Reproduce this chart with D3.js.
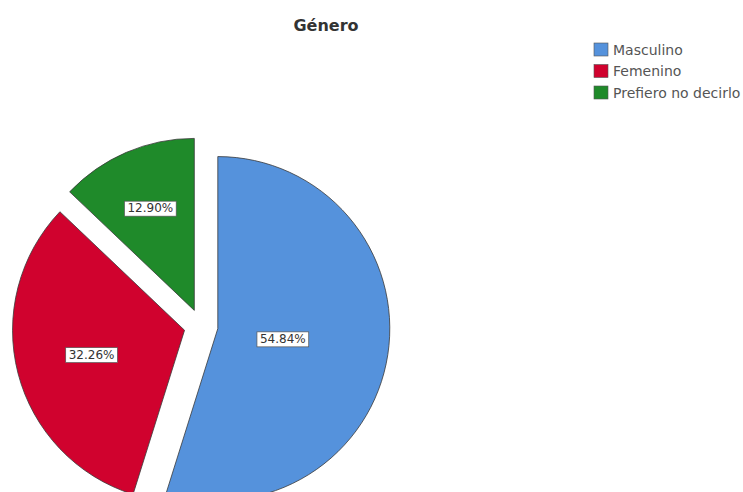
<!DOCTYPE html>
<html>
<head>
<meta charset="utf-8">
<script src="https://cdn.jsdelivr.net/npm/d3@7"></script>
<style>
  html, body { margin: 0; padding: 0; background: #fff; }
  svg { display: block; }
</style>
</head>
<body>
<svg id="chart" width="743" height="492"></svg>
<script>
// Gender distribution (percent of respondents)
const categories = ["Masculino", "Femenino", "Prefiero no decirlo"];
const values = [54.84, 32.26, 12.90];
const colors = ["#5592dc", "#d0022e", "#1f8a2a"];
const title = "Género";

const width = 743, height = 492;
const font = "'DejaVu Sans', Verdana, sans-serif";
const svg = d3.select("#chart");

const cx = 201, cy = 326, radius = 172, explode = 17;

// Title
svg.append("text")
  .attr("x", 326).attr("y", 31)
  .attr("text-anchor", "middle")
  .style("font-family", font)
  .style("font-weight", "bold")
  .style("font-size", "16px")
  .style("fill", "#333")
  .text(title);

const pie = d3.pie().sort(null).value(d => d)
  .startAngle(0).endAngle(2 * Math.PI);
const arcs = pie(values);
const arc = d3.arc().innerRadius(0).outerRadius(radius);

const g = svg.append("g").attr("transform", `translate(${cx},${cy})`);

// Each slice is pushed out along its mid-angle
const slice = g.selectAll("g.slice")
  .data(arcs)
  .enter().append("g")
  .attr("class", "slice")
  .attr("transform", d => {
    const a = (d.startAngle + d.endAngle) / 2;
    return `translate(${explode * Math.sin(a)},${-explode * Math.cos(a)})`;
  });

slice.append("path")
  .attr("d", arc)
  .attr("fill", (d, i) => colors[i])
  .attr("stroke", "#3a3a3a")
  .attr("stroke-width", 0.8);

// Value labels placed at each sector's area centroid
const fmt = v => v.toFixed(2) + "%";
slice.each(function(d) {
  const sel = d3.select(this);
  const a = (d.startAngle + d.endAngle) / 2;
  const alpha = d.endAngle - d.startAngle;
  const dist = 4 * radius * Math.sin(alpha / 2) / (3 * alpha);
  const x = dist * Math.sin(a), y = -dist * Math.cos(a);
  const t = sel.append("text")
    .attr("x", x).attr("y", y)
    .attr("text-anchor", "middle")
    .attr("dy", "0.36em")
    .style("font-family", font)
    .style("font-size", "12px")
    .style("fill", "#333")
    .text(fmt(d.data));
  const bb = t.node().getBBox();
  sel.insert("rect", "text")
    .attr("x", bb.x - 3).attr("y", bb.y)
    .attr("width", bb.width + 6).attr("height", bb.height + 1)
    .attr("fill", "#fff")
    .attr("stroke", "#555")
    .attr("stroke-width", 0.7);
});

// Legend
const legend = svg.append("g").attr("transform", "translate(594,43)");
const rows = legend.selectAll("g")
  .data(categories)
  .enter().append("g")
  .attr("transform", (d, i) => `translate(0,${i * 21.5})`);
rows.append("rect")
  .attr("width", 14).attr("height", 13)
  .attr("fill", (d, i) => colors[i])
  .attr("stroke", "#555").attr("stroke-width", 0.6);
rows.append("text")
  .attr("x", 19).attr("y", 11.5)
  .style("font-family", font)
  .style("font-size", "14px")
  .style("fill", "#555")
  .text(d => d);
</script>
</body>
</html>
